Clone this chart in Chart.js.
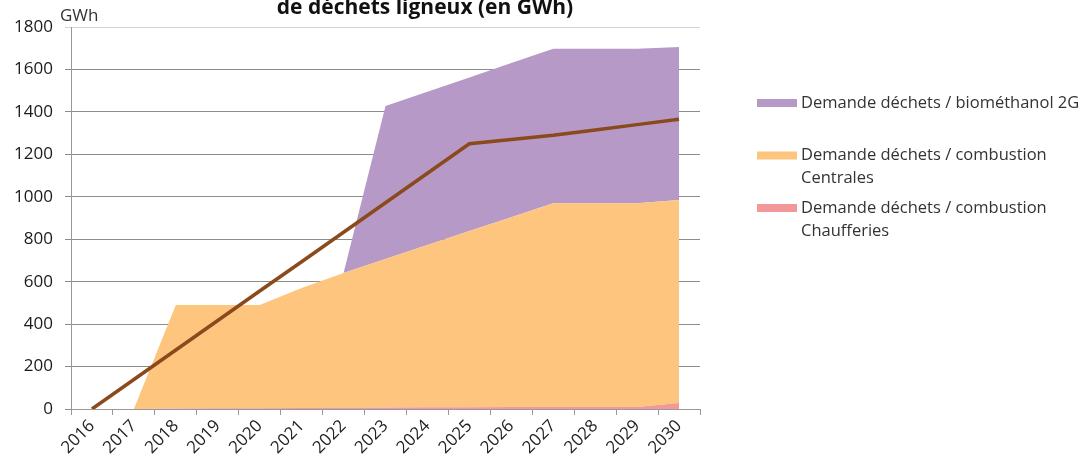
<!DOCTYPE html>
<html>
<head>
<meta charset="utf-8">
<script src="https://cdn.jsdelivr.net/npm/chart.js@4"></script>
<style>
  html, body { margin: 0; padding: 0; background: #fff; }
  #wrap { width: 1083px; height: 465px; position: relative; }
</style>
</head>
<body>
<div id="wrap"><canvas id="chart" width="1083" height="465"></canvas></div>
<script>
const years = ['2016', '2017', '2018', '2019', '2020', '2021', '2022', '2023', '2024', '2025', '2026', '2027', '2028', '2029', '2030'];
const chaufferies = [0, 0, 2, 3, 4, 5, 6, 7, 8, 8, 9, 9, 9, 10, 28];
const centrales = [0, 0, 488, 487, 486, 565, 635, 700, 765, 831, 895, 961, 961, 960, 957];
const biomethanol = [0, 0, 0, 0, 0, 0, 0, 721, 722, 723, 726, 727, 727, 727, 721];
const totalLine = [0, 139, 278, 417, 556, 694, 833, 972, 1111, 1250, 1270, 1290, 1315, 1340, 1365];
const yTicks = [0, 200, 400, 600, 800, 1000, 1200, 1400, 1600, 1800];

const titleText = 'de déchets ligneux (en GWh)';
const unitText = 'GWh';
const legendItems = [
  { lines: ['Demande déchets / biométhanol 2G'], color: 'rgb(183,153,200)' },
  { lines: ['Demande déchets / combustion', 'Centrales'], color: 'rgb(253,197,125)' },
  { lines: ['Demande déchets / combustion', 'Chaufferies'], color: 'rgb(243,152,152)' }
];

const FONT = "'Open Sans', 'Liberation Sans', sans-serif";

// title, unit and the right-hand legend
const decorations = {
  id: 'decorations',
  afterDraw(chart) {
    const c = chart.ctx;
    c.save();
    c.fillStyle = '#111';
    c.font = 'bold 21px ' + FONT;
    c.textAlign = 'center';
    c.textBaseline = 'alphabetic';
    c.fillText(titleText, 425, 14);

    c.fillStyle = '#333';
    c.font = '17px ' + FONT;
    c.textAlign = 'left';
    c.textBaseline = 'middle';
    c.fillText(unitText, 60, 16);

    c.font = '16.5px ' + FONT;
    let y = 103;
    legendItems.forEach(item => {
      c.fillStyle = item.color;
      c.fillRect(757, y - 4, 40, 8);
      c.fillStyle = '#333';
      item.lines.forEach((t, i) => c.fillText(t, 801, y + i * 23));
      y += 52.5;
    });
    c.restore();
  }
};

new Chart(document.getElementById('chart').getContext('2d'), {
  type: 'line',
  data: {
    labels: years,
    datasets: [
      {
        label: legendItems[2].lines.join(' '),
        data: chaufferies,
        backgroundColor: legendItems[2].color,
        borderWidth: 0,
        pointRadius: 0,
        fill: 'origin',
        stack: 'areas'
      },
      {
        label: legendItems[1].lines.join(' '),
        data: centrales,
        backgroundColor: legendItems[1].color,
        borderWidth: 0,
        pointRadius: 0,
        fill: '-1',
        stack: 'areas'
      },
      {
        label: legendItems[0].lines.join(' '),
        data: biomethanol,
        backgroundColor: legendItems[0].color,
        borderWidth: 0,
        pointRadius: 0,
        fill: '-1',
        stack: 'areas'
      },
      {
        label: 'Total',
        data: totalLine,
        borderColor: '#8a4a1c',
        borderWidth: 3.5,
        pointRadius: 0,
        fill: false,
        stack: 'line',
        order: -1
      }
    ]
  },
  options: {
    responsive: false,
    animation: false,
    layout: { padding: { top: 27, right: 383, left: 0, bottom: 0 } },
    plugins: {
      legend: { display: false },
      title: { display: false },
      tooltip: { enabled: false }
    },
    scales: {
      x: {
        offset: true,
        grid: { offset: true, drawOnChartArea: false, drawTicks: true, tickLength: 6, color: '#999' },
        border: { color: '#999' },
        ticks: { color: '#222', font: { family: FONT, size: 17 }, maxRotation: 45, minRotation: 45, padding: 1, autoSkip: false },
        afterFit(scale) { scale.height = 56; }
      },
      y: {
        stacked: true,
        min: 0,
        max: 1800,
        afterBuildTicks(scale) { scale.ticks = yTicks.map(v => ({ value: v })); },
        grid: {
          color: ctx => (ctx.tick && ctx.tick.value === 1800) ? '#d4d4d4' : '#8c8c8c',
          tickLength: 6
        },
        border: { color: '#999' },
        ticks: { color: '#1a1a1a', font: { family: FONT, size: 17 }, padding: 12, callback: v => String(v) },
        afterFit(scale) { scale.width = 71; }
      }
    }
  },
  plugins: [decorations]
});
</script>
</body>
</html>
